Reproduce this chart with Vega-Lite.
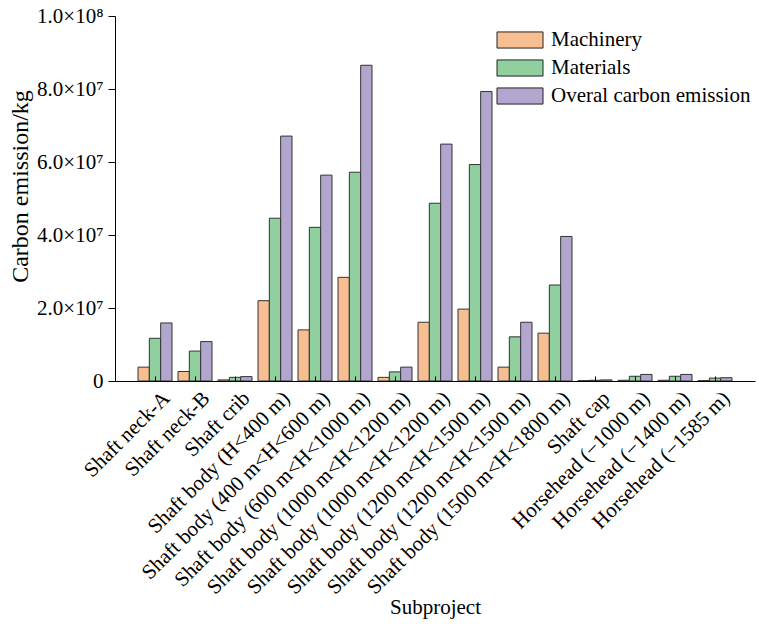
{
  "$schema": "https://vega.github.io/schema/vega-lite/v6.json",
  "width": 640,
  "height": 365,
  "autosize": {"type": "none"},
  "padding": {"left": 115, "top": 16, "right": 2, "bottom": 247},
  "background": "white",
  "config": {
    "view": {"stroke": null},
    "font": "Liberation Serif",
    "axis": {"grid": false, "domainColor": "#000", "tickColor": "#000", "labelColor": "#000", "titleColor": "#000", "labelFont": "Liberation Serif", "titleFont": "Liberation Serif", "titleFontWeight": "normal"}
  },
  "data": {"values": [
    {"sub": "Shaft neck-A", "type": "Machinery", "value": 3800000},
    {"sub": "Shaft neck-A", "type": "Materials", "value": 11700000},
    {"sub": "Shaft neck-A", "type": "Overal carbon emission", "value": 15900000},
    {"sub": "Shaft neck-B", "type": "Machinery", "value": 2600000},
    {"sub": "Shaft neck-B", "type": "Materials", "value": 8200000},
    {"sub": "Shaft neck-B", "type": "Overal carbon emission", "value": 10800000},
    {"sub": "Shaft crib", "type": "Machinery", "value": 300000},
    {"sub": "Shaft crib", "type": "Materials", "value": 1000000},
    {"sub": "Shaft crib", "type": "Overal carbon emission", "value": 1200000},
    {"sub": "Shaft body (H<400 m)", "type": "Machinery", "value": 22000000},
    {"sub": "Shaft body (H<400 m)", "type": "Materials", "value": 44600000},
    {"sub": "Shaft body (H<400 m)", "type": "Overal carbon emission", "value": 67100000},
    {"sub": "Shaft body (400 m<H<600 m)", "type": "Machinery", "value": 14000000},
    {"sub": "Shaft body (400 m<H<600 m)", "type": "Materials", "value": 42100000},
    {"sub": "Shaft body (400 m<H<600 m)", "type": "Overal carbon emission", "value": 56400000},
    {"sub": "Shaft body (600 m<H<1000 m)", "type": "Machinery", "value": 28400000},
    {"sub": "Shaft body (600 m<H<1000 m)", "type": "Materials", "value": 57200000},
    {"sub": "Shaft body (600 m<H<1000 m)", "type": "Overal carbon emission", "value": 86500000},
    {"sub": "Shaft body (1000 m<H<1200 m)", "type": "Machinery", "value": 1000000},
    {"sub": "Shaft body (1000 m<H<1200 m)", "type": "Materials", "value": 2500000},
    {"sub": "Shaft body (1000 m<H<1200 m)", "type": "Overal carbon emission", "value": 3800000},
    {"sub": "Shaft body (1000 m<H<1200 m)#2", "type": "Machinery", "value": 16100000},
    {"sub": "Shaft body (1000 m<H<1200 m)#2", "type": "Materials", "value": 48700000},
    {"sub": "Shaft body (1000 m<H<1200 m)#2", "type": "Overal carbon emission", "value": 64900000},
    {"sub": "Shaft body (1200 m<H<1500 m)", "type": "Machinery", "value": 19700000},
    {"sub": "Shaft body (1200 m<H<1500 m)", "type": "Materials", "value": 59300000},
    {"sub": "Shaft body (1200 m<H<1500 m)", "type": "Overal carbon emission", "value": 79300000},
    {"sub": "Shaft body (1200 m<H<1500 m)#2", "type": "Machinery", "value": 3800000},
    {"sub": "Shaft body (1200 m<H<1500 m)#2", "type": "Materials", "value": 12100000},
    {"sub": "Shaft body (1200 m<H<1500 m)#2", "type": "Overal carbon emission", "value": 16100000},
    {"sub": "Shaft body (1500 m<H<1800 m)", "type": "Machinery", "value": 13100000},
    {"sub": "Shaft body (1500 m<H<1800 m)", "type": "Materials", "value": 26300000},
    {"sub": "Shaft body (1500 m<H<1800 m)", "type": "Overal carbon emission", "value": 39600000},
    {"sub": "Shaft cap", "type": "Machinery", "value": 100000},
    {"sub": "Shaft cap", "type": "Materials", "value": 200000},
    {"sub": "Shaft cap", "type": "Overal carbon emission", "value": 300000},
    {"sub": "Horsehead (−1000 m)", "type": "Machinery", "value": 200000},
    {"sub": "Horsehead (−1000 m)", "type": "Materials", "value": 1300000},
    {"sub": "Horsehead (−1000 m)", "type": "Overal carbon emission", "value": 1800000},
    {"sub": "Horsehead (−1400 m)", "type": "Machinery", "value": 200000},
    {"sub": "Horsehead (−1400 m)", "type": "Materials", "value": 1300000},
    {"sub": "Horsehead (−1400 m)", "type": "Overal carbon emission", "value": 1800000},
    {"sub": "Horsehead (−1585 m)", "type": "Machinery", "value": 100000},
    {"sub": "Horsehead (−1585 m)", "type": "Materials", "value": 800000},
    {"sub": "Horsehead (−1585 m)", "type": "Overal carbon emission", "value": 900000}
  ]},
  "mark": {"type": "bar", "stroke": "#333", "strokeWidth": 1},
  "encoding": {
    "x": {
      "field": "sub", "type": "nominal", "sort": null,
      "scale": {"paddingInner": 0.15, "paddingOuter": 0.575},
      "axis": {
        "title": "Subproject", "zindex": 1,
        "labelAngle": -45, "labelFontSize": 21, "labelAlign": "right", "labelBaseline": "top",
        "tickSize": -5, "labelPadding": 11, "labelOffset": 4, "labelLimit": 0,
        "labelExpr": "split(datum.value, '#')[0]",
        "titleFontSize": 21, "titleY": 226, "titleBaseline": "middle"
      }
    },
    "xOffset": {
      "field": "type", "type": "nominal",
      "sort": ["Machinery", "Materials", "Overal carbon emission"],
      "scale": {"paddingInner": 0, "paddingOuter": 0}
    },
    "y": {
      "field": "value", "type": "quantitative",
      "scale": {"domain": [0, 100000000], "nice": false},
      "axis": {
        "title": "Carbon emission/kg",
        "values": [0, 20000000, 40000000, 60000000, 80000000, 100000000],
        "labelExpr": "datum.value == 0 ? '0' : (datum.value >= 100000000 ? '1.0×10⁸' : format(datum.value / 10000000, '.1f') + '×10⁷')",
        "labelFontSize": 21, "tickSize": 7, "labelPadding": 5,
        "titleFontSize": 24, "titleX": -95, "titleY": 170, "titleBaseline": "middle", "titleAlign": "center", "titleAngle": -90
      }
    },
    "color": {
      "field": "type", "type": "nominal",
      "scale": {
        "domain": ["Machinery", "Materials", "Overal carbon emission"],
        "range": ["#F7BE91", "#8FD09E", "#B2A6CF"]
      },
      "legend": {
        "title": null, "orient": "none", "legendX": 393, "legendY": 12,
        "symbolType": "M-2,-0.7H2V0.7H-2Z", "symbolSize": 529,
        "symbolStrokeColor": "#222", "symbolStrokeWidth": 1, "symbolOpacity": 1,
        "labelFontSize": 21, "labelFont": "Liberation Serif", "labelColor": "#000",
        "labelOffset": 19, "labelLimit": 0, "rowPadding": 5
      }
    }
  }
}
